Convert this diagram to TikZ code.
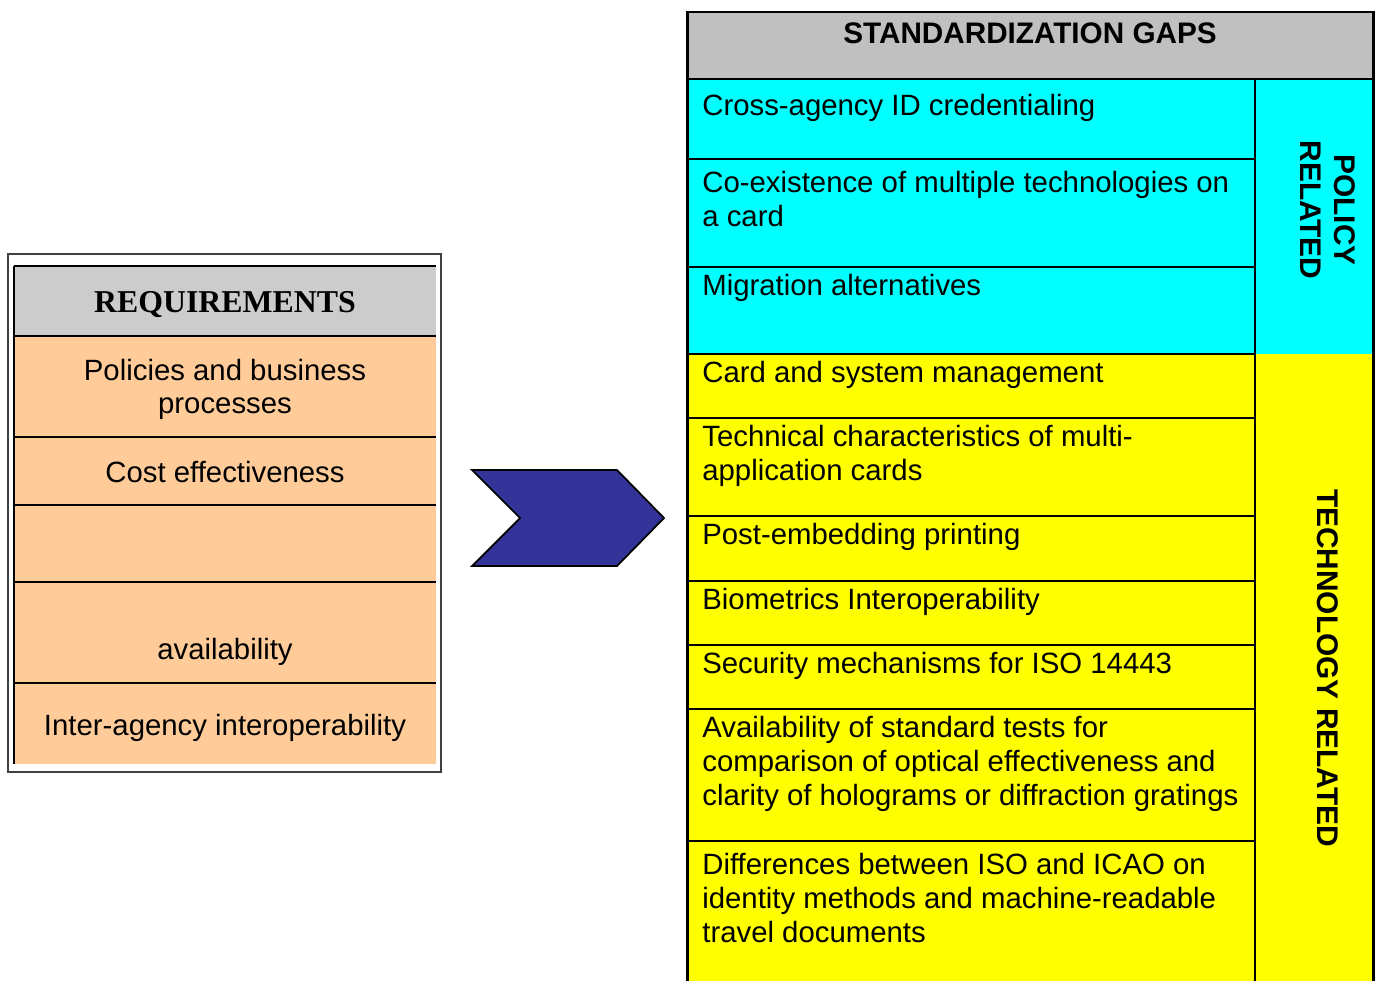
\documentclass[tikz,border=0pt]{standalone}
\usepackage{fontspec}
\setmainfont{Liberation Sans}
\newfontfamily\headserif{Liberation Serif}
\definecolor{reqorange}{HTML}{FFCC99}
\definecolor{reqgray}{HTML}{CCCCCC}
\definecolor{gapgray}{HTML}{C0C0C0}
\definecolor{gapcyan}{HTML}{00FFFF}
\definecolor{gapyellow}{HTML}{FFFF00}
\definecolor{chevblue}{HTML}{333399}
\tikzset{
  rowline/.style={line width=1.1pt},
  frameline/.style={line width=1.7pt},
  firstbase/.style={yshift=14pt, execute at begin node={\rule{0pt}{14pt}}},
  reqhead/.style={anchor=base, inner sep=0pt, font=\headserif\bfseries\fontsize{18.1}{21}\selectfont},
  reqtext/.style={anchor=north, firstbase, inner sep=0pt, align=center, font=\fontsize{16.7}{19.3}\selectfont},
  gaptext/.style={anchor=north west, firstbase, inner sep=0pt, align=left, font=\fontsize{16.7}{19.6}\selectfont},
  gaphead/.style={anchor=base, inner sep=0pt, font=\bfseries\fontsize{16.9}{19.3}\selectfont},
  sidelabel/.style={rotate=-90, inner sep=0pt, align=center, font=\bfseries\fontsize{17}{19.8}\selectfont}
}
\begin{document}
\begin{tikzpicture}[x=0.02cm, y=-0.02cm]
  \useasboundingbox (0,0) rectangle (1380,981);
  %Requirements frame
  \draw[line width=0.8pt, black!75] (8,254) rectangle (441,772);
  %Requirements fills
  \fill[reqgray] (14,266) rectangle (436,336);
  \fill[reqorange] (14,336) rectangle (436,764);
  %Requirements lines
  \draw[rowline] (14,266) -- (436,266);
  \draw[rowline] (14,266) -- (14,764);
  \foreach \y in {336,437,505,582,683}
    \draw[rowline] (14,\y) -- (436,\y);
  %Requirements texts
  \node[reqhead] (req) at (225,312) {REQUIREMENTS};
  \node[reqtext] (policies) at (225,383) {Policies and business\\processes};
  \node[reqtext] (cost) at (225,482) {Cost effectiveness};
  \node[reqtext] (avail) at (225,659) {availability};
  \node[reqtext] (interop) at (225,735) {Inter-agency interoperability};
  %Chevron
  \draw[line width=1pt, fill=chevblue, line join=miter]
    (472,470) -- (617,470) -- (664,518) -- (617,566) -- (472,566) -- (520,518) -- cycle;
  %Gaps fills
  \fill[gapgray] (687,12) rectangle (1373,79);
  \fill[gapcyan] (687,79) rectangle (1373,354);
  \fill[gapyellow] (687,354) rectangle (1373,981);
  %Gaps lines
  \foreach \y in {159,267,354,418,516,581,645,709,841}
    \draw[rowline] (687,\y) -- (1255,\y);
  \draw[rowline] (1255,79) -- (1255,981);
  \draw[frameline] (687,79) -- (1373,79);
  \draw[frameline] (687,981) -- (687,12) -- (1373,12) -- (1373,981);
  %Gaps texts
  \node[gaphead] (gaps) at (1030,43) {STANDARDIZATION GAPS};
  \node[gaptext] (credential) at (702,115) {Cross-agency ID credentialing};
  \node[gaptext] (coexist) at (702,195) {Co-existence of multiple technologies on\\a card};
  \node[gaptext] (migration) at (702,295) {Migration alternatives};
  \node[gaptext] (cardmgmt) at (702,382) {Card and system management};
  \node[gaptext] (multiapp) at (702,449) {Technical characteristics of multi-\\application cards};
  \node[gaptext] (printing) at (702,544) {Post-embedding printing};
  \node[gaptext] (biometrics) at (702,609) {Biometrics Interoperability};
  \node[gaptext] (security) at (702,673) {Security mechanisms for ISO 14443};
  \node[gaptext] (holograms) at (702,740) {Availability of standard tests for\\comparison of optical effectiveness and\\clarity of holograms or diffraction gratings};
  \node[gaptext] (icao) at (702,877) {Differences between ISO and ICAO on\\identity methods and machine-readable\\travel documents};
  %Side labels
  \node[sidelabel] (policy) at (1328,210) {POLICY\\RELATED};
  \node[sidelabel] (technology) at (1328,668) {TECHNOLOGY RELATED};
\end{tikzpicture}
\end{document}
